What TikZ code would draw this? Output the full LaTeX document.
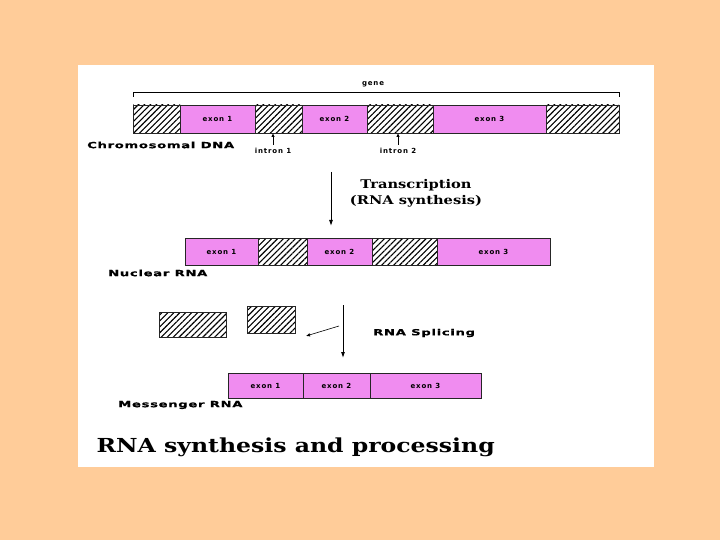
\documentclass[tikz,border=0pt]{standalone}
\usepackage{fontspec}
\usetikzlibrary{arrows.meta,positioning,patterns.meta}
\newfontfamily\lblfont[LetterSpace=12]{DejaVu Sans Bold}
\newfontfamily\capfont[FakeStretch=1.55,LetterSpace=8,FakeBold=0.6]{DejaVu Sans Bold}
\newfontfamily\serfont[FakeStretch=1.22]{DejaVu Serif Bold}
\definecolor{peach}{HTML}{FFCC99}
\definecolor{exonpink}{HTML}{F08CF0}
\tikzset{every node/.style={font=\lblfont\fontsize{7}{8}\selectfont},
 seg/.style={draw=black!85,line width=.7pt,inner sep=0pt,outer sep=0pt,anchor=west},
 exon/.style={seg,fill=exonpink},
 hatch/.style={seg,fill=white,pattern={Lines[angle=45,distance=4.2pt,line width=1.1pt]}},
 caption/.style={anchor=west,inner sep=0pt,font=\capfont\fontsize{8.5}{10}\selectfont},
 step arrow/.style={-{Latex[length=6pt,width=4pt]},line width=.9pt},
 tick arrow/.style={-{Latex[length=4pt,width=3.5pt]},line width=.8pt}}

\begin{document}
\begin{tikzpicture}[x=1pt,y=-1pt]

\path[use as bounding box,fill=peach] (0,0) rectangle (720,540);
\fill[white] (78,65) rectangle (654,467);

% chromosomal DNA
\node[hatch,minimum width=47pt,minimum height=28pt] (d1) at (133,119) {};
\node[exon,minimum width=75pt,minimum height=28pt,right=0pt of d1] (d2) {exon 1};
\node[hatch,minimum width=47pt,minimum height=28pt,right=0pt of d2] (d3) {};
\node[exon,minimum width=65pt,minimum height=28pt,right=0pt of d3] (d4) {exon 2};
\node[hatch,minimum width=66pt,minimum height=28pt,right=0pt of d4] (d5) {};
\node[exon,minimum width=113pt,minimum height=28pt,right=0pt of d5] (d6) {exon 3};
\node[hatch,minimum width=73pt,minimum height=28pt,right=0pt of d6] (d7) {};
\draw[line width=.8pt] (133,97)--(133,92)--(619,92)--(619,97);
\node (gene) at (373,84) {gene};
\node[caption] (chrom) at (87,145) {Chromosomal DNA};
\node (int1) at (273,151) {intron 1};
\node (int2) at (398,151) {intron 2};
\draw[tick arrow] (int1.north) -- (int1.north |- d3.south);
\draw[tick arrow] (int2.north) -- (int2.north |- d5.south);

% transcription
\coordinate (tstart) at (331,172);
\coordinate (tend) at (331,226);
\draw[step arrow] (tstart) -- (tend);
\node[font=\serfont\fontsize{12}{16}\selectfont,align=center] (transc) at (416,193) {Transcription\\(RNA synthesis)};

% nuclear RNA
\node[exon,minimum width=73pt,minimum height=27pt] (n1) at (185,251.5) {exon 1};
\node[hatch,minimum width=49pt,minimum height=27pt,right=0pt of n1] (n2) {};
\node[exon,minimum width=65pt,minimum height=27pt,right=0pt of n2] (n3) {exon 2};
\node[hatch,minimum width=65pt,minimum height=27pt,right=0pt of n3] (n4) {};
\node[exon,minimum width=113pt,minimum height=27pt,right=0pt of n4] (n5) {exon 3};
\node[caption] (nucl) at (108,273) {Nuclear RNA};

% splicing
\node[hatch,minimum width=67pt,minimum height=25pt] (cut1) at (159,324.5) {};
\node[hatch,minimum width=48pt,minimum height=27pt] (cut2) at (247,319.5) {};
\coordinate (sstart) at (343,305);
\coordinate (send) at (343,358);
\coordinate (sfork) at (339,326);
\coordinate (sout) at (306,336);
\draw[step arrow] (sstart) -- (send);
\draw[tick arrow,line width=.6pt] (sfork) -- (sout);
\node[caption] (splice) at (373,333) {RNA Splicing};

% messenger RNA
\node[exon,minimum width=75pt,minimum height=25pt] (m1) at (228,385.5) {exon 1};
\node[exon,minimum width=67pt,minimum height=25pt,right=0pt of m1] (m2) {exon 2};
\node[exon,minimum width=111pt,minimum height=25pt,right=0pt of m2] (m3) {exon 3};
\node[caption] (mess) at (118,405) {Messenger RNA};

\node[anchor=west,font=\serfont\fontsize{19.3}{22}\selectfont] (title) at (93,447) {RNA synthesis and processing};

\end{tikzpicture}
\end{document}
